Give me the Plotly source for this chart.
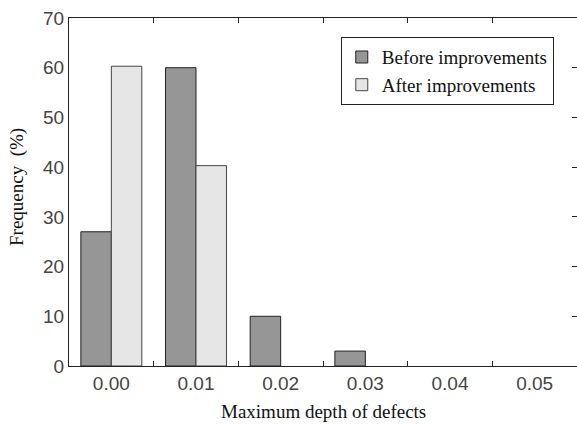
import plotly.graph_objects as go

categories = ["0.00", "0.01", "0.02", "0.03", "0.04", "0.05"]
before = [27, 60, 10, 3, 0, 0]
after = [60.3, 40.3, 0, 0, 0, 0]
y_ticks = [0, 10, 20, 30, 40, 50, 60, 70]

xpos = list(range(len(categories)))
boundaries = [i + 0.5 for i in xpos]

serif = "Liberation Serif"
sans = "Liberation Sans"


def edge_widths(vals, w=1):
    return [w if v else 0 for v in vals]


fig = go.Figure()
fig.add_trace(go.Bar(x=xpos, y=before, name="Before improvements",
                     marker=dict(color="#969696",
                                 line=dict(color="#222222", width=edge_widths(before)))))
fig.add_trace(go.Bar(x=xpos, y=after, name="After improvements",
                     marker=dict(color="#e6e6e6",
                                 line=dict(color="#444444", width=edge_widths(after)))))
# invisible trace to activate secondary axes
fig.add_trace(go.Scatter(x=[xpos[0]], y=[0], xaxis="x2", yaxis="y2", mode="markers",
                         marker=dict(opacity=0), showlegend=False, hoverinfo="skip"))

fig.update_layout(
    width=577, height=425,
    margin=dict(l=69, r=0, t=18, b=59, autoexpand=False),
    paper_bgcolor="white", plot_bgcolor="white",
    barmode="group", bargap=0.28, bargroupgap=0,
    showlegend=True,
    legend=dict(x=0.535, y=0.945, xanchor="left", yanchor="top",
                bordercolor="#222222", borderwidth=1,
                font=dict(family=serif, size=19, color="#111111"),
                bgcolor="white", tracegroupgap=0),
    xaxis=dict(range=[-0.5, 5.5], tickvals=xpos, ticktext=categories, automargin=False,
               showline=True, linecolor="#222222", linewidth=1, mirror=True,
               ticks="", showgrid=False, zeroline=False,
               tickfont=dict(family=sans, size=19, color="#444444")),
    xaxis2=dict(range=[-0.5, 5.5], overlaying="x", anchor="y", tickvals=boundaries,
                automargin=False,
                showticklabels=False, ticks="inside", ticklen=5, tickcolor="#222222",
                showline=True, linecolor="#222222", mirror="ticks",
                showgrid=False, zeroline=False),
    yaxis=dict(range=[0, 70], tickvals=y_ticks, showline=True, linecolor="#222222",
               linewidth=1, ticks="", showgrid=False, zeroline=False, automargin=False,
               tickfont=dict(family=sans, size=19, color="#444444")),
    yaxis2=dict(range=[0, 70], overlaying="y", side="right", anchor="x", tickvals=y_ticks[1:-1],
                automargin=False,
                showticklabels=False, ticks="inside", ticklen=5, tickcolor="#222222",
                showline=False, showgrid=False, zeroline=False),
    annotations=[
        dict(text="Maximum depth of defects", xref="paper", yref="paper",
             x=0.5, y=0, yshift=-45, xanchor="center", yanchor="middle", showarrow=False,
             font=dict(family=serif, size=19, color="#111111")),
        dict(text="Frequency  (%)", xref="paper", yref="paper", textangle=-90,
             x=0, xshift=-52, y=0.5, yshift=5, xanchor="center", yanchor="middle",
             showarrow=False, font=dict(family=serif, size=19, color="#111111")),
    ],
)

fig.write_html("out.html", config={"displayModeBar": False},
               post_script="document.body.style.margin='0px';document.body.style.overflow='hidden';")
